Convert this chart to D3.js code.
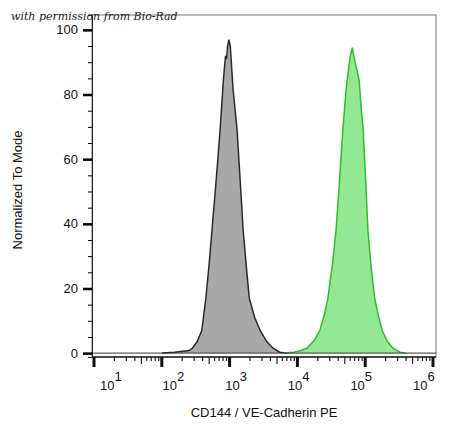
<!DOCTYPE html>
<html><head><meta charset="utf-8">
<script src="https://cdn.jsdelivr.net/npm/d3@7"></script>
<style>body{margin:0;background:#fff}svg{display:block;font-family:"Liberation Sans",Arial,sans-serif}</style>
</head><body><div id="chart"></div>
<script>
// log10 intensity, percent of mode
const isotypeX = [2.0,2.19,2.4,2.45,2.52,2.59,2.65,2.70,2.74,2.80,2.86,2.91,2.94,2.955,2.97,2.99,3.01,3.05,3.11,3.16,3.20,3.25,3.29,3.37,3.45,3.55,3.64,3.74,3.85]
const isotypeY = [0,0.3,0.8,1.5,3.5,7,17,28,38,53,69,85,92,91,95,97,95,82,69,52,38,26,17,11,7,3.5,1.5,0.3,0]
const stainedX = [3.8,3.95,4.05,4.14,4.25,4.33,4.40,4.45,4.52,4.57,4.62,4.67,4.72,4.78,4.81,4.85,4.91,4.94,4.97,5.01,5.04,5.09,5.14,5.20,5.25,5.33,5.41,5.51,5.6]
const stainedY = [0,0.3,0.8,1.5,4,7,12,17,28,38,53,69,82,92,94.5,90,84.5,76,69,52,38,26,17,11,7,3.5,1.5,0.3,0]
const yTicks = [0,20,40,60,80,100]
const xDecades = [1,2,3,4,5,6]

const W = 450, H = 433
const svg = d3.select("#chart").append("svg").attr("width", W).attr("height", H)

const x = d3.scaleLog().domain([10, 1e6]).range([94, 433])
const y = d3.scaleLinear().domain([-1.2, 104.6]).range([357, 15])

// frame
svg.append("rect").attr("x", 92).attr("y", 15).attr("width", 344).attr("height", 342)
  .attr("fill", "none").attr("stroke", "#777").attr("stroke-width", 1)

const area = d3.area().x(d => x(Math.pow(10, d[0]))).y0(y(0)).y1(d => y(d[1])).curve(d3.curveLinear)
const line = d3.line().x(d => x(Math.pow(10, d[0]))).y(d => y(d[1]))

const series = [
  { xs: isotypeX, ys: isotypeY, fill: "#a8a8a8", stroke: "#2a2a2a" },
  { xs: stainedX, ys: stainedY, fill: "#93e993", stroke: "#2dbd2d" },
]
series.forEach(s => {
  const pts = s.xs.map((v, i) => [v, s.ys[i]])
  svg.append("path").attr("d", area(pts)).attr("fill", s.fill)
  svg.append("path").attr("d", line(pts)).attr("fill", "none").attr("stroke", s.stroke).attr("stroke-width", 1.5)
})
// baseline
svg.append("line").attr("x1", 92).attr("x2", 436).attr("y1", y(0)).attr("y2", y(0)).attr("stroke", "#333").attr("stroke-width", 1)

// Y AXIS
const gy = svg.append("g").attr("transform", "translate(92,0)")
gy.call(d3.axisLeft(y).tickValues(d3.range(0, 101, 5)).tickSize(4).tickFormat(""))
gy.call(g => g.select(".domain").attr("stroke", "#222"))
gy.selectAll(".tick").filter(d => yTicks.includes(d)).select("line").attr("x2", -9).attr("stroke-width", 2.5)
gy.selectAll(".ylab").data(yTicks).enter().append("text")
  .attr("x", -14).attr("y", d => y(d)).attr("dy", "0.35em").attr("text-anchor", "end")
  .attr("font-size", 13).attr("fill", "#111").text(d => d)

// X AXIS
const minors = []
for (let e = 1; e < 6; e++) for (let m = 2; m < 10; m++) minors.push(m * Math.pow(10, e))
const gx = svg.append("g").attr("transform", "translate(0,357)")
gx.append("line").attr("x1", 92).attr("x2", 436).attr("stroke", "#222").attr("stroke-width", 1.5)
gx.selectAll(".minor").data(minors).enter().append("line")
  .attr("x1", d => x(d)).attr("x2", d => x(d)).attr("y1", 0)
  .attr("y2", d => (d / Math.pow(10, Math.floor(Math.log10(d) + 1e-9)) === 5 ? 7 : 4))
  .attr("stroke", "#222").attr("stroke-width", 1.2)
gx.selectAll(".major").data(xDecades).enter().append("line")
  .attr("x1", d => x(Math.pow(10, d))).attr("x2", d => x(Math.pow(10, d)))
  .attr("y1", 0).attr("y2", 10).attr("stroke", "#111").attr("stroke-width", 3)
const lab = gx.selectAll(".xlab").data(xDecades).enter().append("text")
  .attr("x", (d, i) => x(Math.pow(10, d)) + 13 - 5.2 * i - 7).attr("y", 33)
  .attr("font-size", 13).attr("fill", "#111")
lab.append("tspan").text("10")
lab.append("tspan").attr("dy", -9).attr("font-size", 13).text(d => d)

// labels
svg.append("text").attr("x", 264).attr("y", 417).attr("text-anchor", "middle")
  .attr("font-size", 13).attr("fill", "#111").text("CD144 / VE-Cadherin PE")
svg.append("text").attr("transform", "translate(22,190) rotate(-90)").attr("text-anchor", "middle")
  .attr("font-size", 13).attr("fill", "#111").text("Normalized To Mode")
svg.append("text").attr("x", 11).attr("y", 20).attr("font-size", 11).attr("font-style", "italic")
  .attr("font-family", "'DejaVu Serif',serif").attr("fill", "#222").text("with permission from Bio-Rad")
</script></body></html>
